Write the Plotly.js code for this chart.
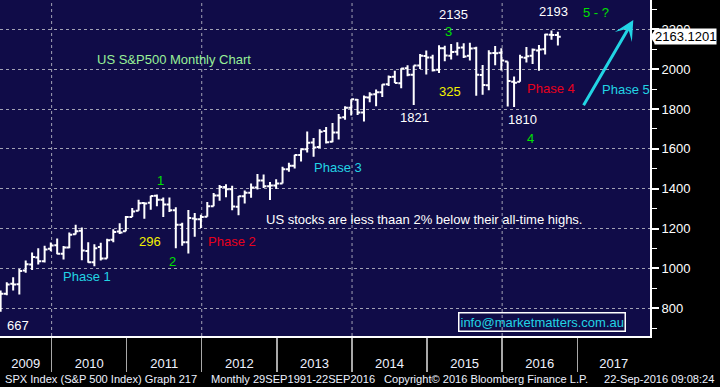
<!DOCTYPE html>
<html>
<head>
<meta charset="utf-8">
<script src="https://cdn.plot.ly/plotly-3.0.1.min.js"></script>
<style>
html,body{margin:0;padding:0;background:#000;}
#chart{width:720px;height:387px;}
</style>
</head>
<body>
<div id="chart"></div>
<script>
// ---- Data (S&P 500 monthly OHLC) ----
const months = [
 '2009-03','2009-04','2009-05','2009-06','2009-07','2009-08','2009-09','2009-10','2009-11','2009-12',
 '2010-01','2010-02','2010-03','2010-04','2010-05','2010-06','2010-07','2010-08','2010-09','2010-10','2010-11','2010-12',
 '2011-01','2011-02','2011-03','2011-04','2011-05','2011-06','2011-07','2011-08','2011-09','2011-10','2011-11','2011-12',
 '2012-01','2012-02','2012-03','2012-04','2012-05','2012-06','2012-07','2012-08','2012-09','2012-10','2012-11','2012-12',
 '2013-01','2013-02','2013-03','2013-04','2013-05','2013-06','2013-07','2013-08','2013-09','2013-10','2013-11','2013-12',
 '2014-01','2014-02','2014-03','2014-04','2014-05','2014-06','2014-07','2014-08','2014-09','2014-10','2014-11','2014-12',
 '2015-01','2015-02','2015-03','2015-04','2015-05','2015-06','2015-07','2015-08','2015-09','2015-10','2015-11','2015-12',
 '2016-01','2016-02','2016-03','2016-04','2016-05','2016-06','2016-07','2016-08','2016-09'
];
const openV = [
 729.6,793.6,872.7,923.3,920.8,990.2,1019.5,1054.9,1036.2,1098.9,
 1116.6,1073.9,1105.4,1171.2,1188.6,1087.3,1031.1,1107.5,1049.7,1143.5,1185.7,1186.6,
 1257.6,1289.1,1328.6,1329.5,1365.2,1345.2,1320.6,1292.6,1219.1,1131.2,1251.0,1246.9,
 1258.9,1312.5,1365.9,1408.5,1397.9,1309.9,1362.3,1379.3,1406.5,1440.9,1412.2,1416.2,
 1426.2,1498.1,1514.7,1569.2,1597.6,1631.7,1609.8,1689.4,1636.0,1682.4,1758.7,1806.6,
 1845.9,1782.7,1857.7,1874.0,1884.4,1923.9,1962.3,1929.8,2004.1,1971.4,2018.2,2065.8,
 2058.9,1996.7,2105.2,2067.6,2087.4,2108.6,2067.0,2104.5,1970.1,1919.7,2080.8,2082.9,
 2038.2,1936.9,1937.1,2056.6,2067.2,2093.9,2099.3,2173.2,2171.3
];
const highV = [
 833.0,888.7,930.2,956.2,996.7,1039.5,1080.2,1101.4,1113.7,1130.4,
 1150.5,1112.4,1180.2,1219.8,1205.1,1131.2,1121.0,1129.2,1148.9,1196.1,1227.1,1262.6,
 1302.7,1344.1,1332.3,1364.6,1370.6,1356.5,1356.5,1307.4,1229.3,1292.7,1277.6,1269.4,
 1333.5,1378.0,1419.2,1422.4,1415.3,1363.5,1391.7,1426.7,1474.5,1471.0,1434.3,1448.0,
 1509.9,1530.9,1570.3,1597.6,1687.2,1654.2,1698.8,1709.7,1729.9,1775.2,1813.6,1849.4,
 1850.8,1867.9,1884.0,1897.3,1924.0,1968.2,1991.4,2005.0,2019.3,2018.2,2075.8,2093.6,
 2072.4,2119.6,2117.5,2125.9,2134.7,2129.9,2132.8,2112.7,2020.9,2094.3,2116.5,2104.3,
 2038.2,1963.0,2072.2,2111.1,2103.5,2120.6,2177.1,2193.8,2187.9
];
const lowV = [
 666.8,783.3,866.1,888.9,869.3,978.5,992.0,1020.2,1029.4,1085.9,
 1071.6,1044.5,1101.0,1170.7,1040.8,1028.3,1010.9,1039.7,1049.7,1131.9,1173.0,1186.6,
 1257.6,1289.1,1249.1,1294.7,1311.8,1258.1,1282.9,1101.5,1114.2,1074.8,1158.7,1202.4,
 1258.9,1312.5,1340.0,1357.4,1292.0,1266.7,1325.4,1354.7,1396.6,1403.3,1343.4,1398.1,
 1426.2,1485.0,1501.5,1536.0,1581.3,1560.3,1604.6,1627.5,1633.4,1646.5,1746.2,1768.0,
 1770.5,1737.9,1834.4,1814.4,1859.8,1916.0,1930.7,1904.8,1964.0,1820.7,2001.0,1972.6,
 1988.1,1980.9,2039.7,2048.4,2067.9,2056.3,2044.0,1867.0,1871.9,1893.7,2019.4,1993.3,
 1812.3,1810.1,1937.1,2033.8,2025.9,1991.7,2074.0,2147.6,2119.1
];
const closeV = [
 797.9,872.8,919.1,919.3,987.5,1020.6,1057.1,1036.2,1095.6,1115.1,
 1073.9,1104.5,1169.4,1186.7,1089.4,1030.7,1101.6,1049.3,1141.2,1183.3,1180.6,1257.6,
 1286.1,1327.2,1325.8,1363.6,1345.2,1320.6,1292.3,1218.9,1131.4,1253.3,1247.0,1257.6,
 1312.4,1365.7,1408.5,1397.9,1310.3,1362.2,1379.3,1406.6,1440.7,1412.2,1416.2,1426.2,
 1498.1,1514.7,1569.2,1597.6,1630.7,1606.3,1685.7,1633.0,1681.6,1756.5,1805.8,1848.4,
 1782.6,1859.5,1872.3,1884.0,1923.6,1960.2,1930.7,2003.4,1972.3,2018.1,2067.6,2058.9,
 1995.0,2104.5,2067.9,2085.5,2107.4,2063.1,2103.8,1972.2,1920.0,2079.4,2080.4,2043.9,
 1940.2,1932.2,2059.7,2065.3,2097.0,2098.9,2173.6,2171.0,2163.1
];
const lastPrice = 2163.1201;
const years = ['2009','2010','2011','2012','2013','2014','2015','2016','2017'];
const gridYears = ['2010','2012','2014','2016'];
const yTicks = [800,1000,1200,1400,1600,1800,2000,2200];
const xRange = ['2009-04-25','2017-12-20'];

// ---- Build ----
const barDates = months.map(m => m + '-28');
const yearStarts = years.map(y => y + '-01-01');
const toMs = d => new Date(d + (d.length === 10 ? 'T00:00:00Z' : '')).getTime();
const r0 = toMs(xRange[0]), r1 = toMs(xRange[1]);
const labelPos = years.map(y => {
  const a = Math.max(toMs(y + '-01-01'), r0);
  const b = Math.min(toMs((+y + 1) + '-01-01'), r1);
  return new Date((a + b) / 2).toISOString().slice(0, 19).replace('T', ' ');
});

const FONT = 'Liberation Sans, Arial, sans-serif';
const WHITE = '#ffffff';
const GREEN = '#00e000';
const CYAN = '#22d4e4';
const YELLOW = '#f2f200';
const RED = '#e8001c';
const LTXT = '#eef2ff';

const trace = {
  type: 'ohlc',
  x: barDates, open: openV, high: highV, low: lowV, close: closeV,
  increasing: {line: {color: WHITE, width: 2}},
  decreasing: {line: {color: WHITE, width: 2}},
  tickwidth: 0.5,
  hoverinfo: 'skip',
  showlegend: false
};

function txt(text, x, y, color, opts) {
  return Object.assign({
    text: text, xref: 'paper', yref: 'paper', x: x / 650, y: 1 - y / 336,
    xanchor: 'center', yanchor: 'middle', showarrow: false,
    font: {family: FONT, size: 13, color: color}
  }, opts || {});
}
const FOOT = {family: FONT, size: 11.1, color: LTXT};

const annotations = [
  txt('US S&P500 Monthly Chart', 95, 59.5, '#98f098', {xanchor: 'left'}),
  txt('2135', 453, 15, WHITE),
  txt('3', 448, 31.7, GREEN),
  txt('325', 450, 91.7, YELLOW),
  txt('1821', 415, 117, WHITE),
  txt('Phase 3', 338, 167, CYAN),
  txt('2193', 553, 11.7, WHITE),
  txt('5 - ?', 596, 12.3, GREEN),
  txt('Phase 4', 551, 88.3, RED),
  txt('Phase 5', 626, 90, CYAN),
  txt('1810', 522.5, 119, WHITE),
  txt('4', 530, 138.3, GREEN),
  txt('1', 160, 180, GREEN),
  txt('296', 150, 241.7, YELLOW),
  txt('2', 173, 261.7, GREEN),
  txt('Phase 2', 231.5, 241, RED),
  txt('Phase 1', 87, 276.7, CYAN),
  txt('667', 17.5, 325.7, WHITE),
  txt('US stocks are less thaan 2% below their all-time highs.', 264.3, 219.3, WHITE, {xanchor: 'left'}),
  txt('info@marketmatters.com.au', 541.7, 322.2, CYAN, {bordercolor: WHITE, borderwidth: 1.5, borderpad: 1}),
  // arrow for phase 5
  {xref: 'paper', yref: 'paper', x: 633.3 / 650, y: 1 - 20 / 336, ax: -50.6, ay: 86.7,
   showarrow: true, arrowcolor: CYAN, arrowwidth: 3, arrowhead: 3, arrowsize: 1.1, text: ''},
  // last price box
  {xref: 'paper', yref: 'y', x: 1, y: lastPrice, xanchor: 'left', yanchor: 'middle', xshift: 4,
   text: lastPrice.toFixed(4), showarrow: false, bgcolor: WHITE, borderpad: 0,
   font: {family: FONT, size: 13, color: '#000000'}},
  // footer
  txt('SPX Index (S&P 500 Index) Graph 217', 2.7, 379, LTXT, {xanchor: 'left', font: FOOT}),
  txt('Monthly 29SEP1991-22SEP2016', 209, 379, LTXT, {xanchor: 'left', font: FOOT}),
  txt('Copyright\u00a9 2016 Bloomberg Finance L.P.', 381.7, 379, LTXT, {xanchor: 'left', font: FOOT}),
  txt('22-Sep-2016 09:08:24', 601.7, 379, LTXT, {xanchor: 'left', font: FOOT})
];

const shapes = gridYears.map(y => ({
  type: 'line', xref: 'x', yref: 'paper', x0: y + '-01-01', x1: y + '-01-01', y0: 0, y1: 1,
  line: {color: '#a2a2b4', width: 1, dash: '3px,3px'}, layer: 'below'
}));
// notch of the last-price box
shapes.push({
  type: 'path', xref: 'paper', yref: 'y', xsizemode: 'pixel', ysizemode: 'pixel',
  xanchor: 1, yanchor: lastPrice, path: 'M0,0 L5,-7 L5,7 Z',
  fillcolor: WHITE, line: {width: 0}
});

const layout = {
  width: 720, height: 387,
  margin: {l: 0, r: 70, t: 0, b: 51},
  paper_bgcolor: '#000000',
  plot_bgcolor: '#100c48',
  showlegend: false,
  font: {family: FONT, color: LTXT},
  xaxis: {
    type: 'date', range: xRange,
    rangeslider: {visible: false},
    tickmode: 'array', tickvals: labelPos, ticktext: years,
    ticks: 'outside', ticklen: 14, tickcolor: 'rgba(0,0,0,0)',
    tickfont: {family: FONT, size: 13, color: LTXT},
    showgrid: false, zeroline: false,
    showline: true, linecolor: WHITE, linewidth: 2,
    minor: {tickmode: 'array', tickvals: yearStarts, ticks: 'outside', ticklen: 34,
            tickcolor: '#a8a8a8', tickwidth: 1.5, showgrid: false},
    fixedrange: true
  },
  yaxis: {
    side: 'right', range: [661, 2347],
    tickmode: 'array', tickvals: yTicks,
    ticks: 'outside', ticklen: 7, tickwidth: 2, tickcolor: WHITE,
    tickfont: {family: FONT, size: 13, color: WHITE},
    showgrid: true, gridcolor: '#a2a2b4', gridwidth: 1, griddash: '3px,3px',
    zeroline: false,
    showline: true, linecolor: WHITE, linewidth: 2,
    minor: {dtick: 100, tick0: 0, ticks: 'outside', ticklen: 5, tickwidth: 1, tickcolor: WHITE, showgrid: false},
    fixedrange: true
  },
  annotations: annotations,
  shapes: shapes
};

Plotly.newPlot('chart', [trace], layout, {displayModeBar: false, staticPlot: true});
</script>
</body>
</html>
